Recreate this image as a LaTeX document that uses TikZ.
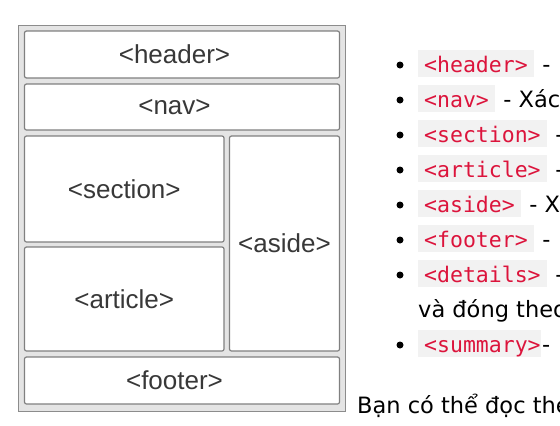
\documentclass[tikz,border=0pt]{standalone}
\usepackage{fontspec}
\setmainfont{DejaVu Sans}
\newfontfamily\khungfont{Liberation Sans}
\newfontfamily\mafont{DejaVu Sans Mono}
\usetikzlibrary{positioning}
\definecolor{vienngoai}{HTML}{8C8C8C}
\definecolor{vienxam}{HTML}{808080}
\definecolor{nenxam}{HTML}{E4E4E4}
\definecolor{chuxam}{HTML}{383838}
\definecolor{maudo}{HTML}{DC143C}
\definecolor{nenma}{HTML}{F2F2F2}

\tikzset{
  khung/.style={draw=vienxam, line width=1.2pt, fill=white, rounded corners=2pt,
    inner sep=0pt, text=chuxam, font=\khungfont\fontsize{26}{30}\selectfont},
  ma/.style={fill=nenma, text=maudo, inner xsep=6pt, inner ysep=0pt,
    text height=22pt, text depth=5.3pt, font=\mafont\fontsize{21.5}{26}\selectfont},
  chu/.style={inner xsep=1pt, inner ysep=0pt, text=black,
    font=\fontsize{22.5}{27}\selectfont},
  cham/.style={circle, fill=black, inner sep=0pt, minimum size=7pt}
}

\begin{document}
\begin{tikzpicture}[x=1pt,y=-1pt]
    \path[use as bounding box] (0,0) rectangle (560,426);
    \clip (0,0) rectangle (560,426);
    % Khung ngoai
    \draw[draw=vienngoai, fill=nenxam, line width=1pt] (18,25) rectangle (345,411);
    % Cac khoi bo cuc
    \node[khung, minimum width=315pt, minimum height=47pt] (header) at (182,54.5) {<header>\hspace*{15pt}};
    \node[khung, minimum width=315pt, minimum height=46pt] (nav) at (182,107) {<nav>\hspace*{15pt}};
    \node[khung, minimum width=199.5pt, minimum height=106pt] (section) at (124.25,189) {<section>};
    \node[khung, minimum width=199.5pt, minimum height=104pt] (article) at (124.25,299) {<article>};
    \node[khung, minimum width=110pt, minimum height=215pt] (aside) at (284.5,243.5) {<aside>};
    \node[khung, minimum width=315pt, minimum height=47pt] (footer) at (182,380.5) {<footer>\hspace*{15pt}};
    % Danh sach the
    \node[cham] (cham1) at (400,65) {};
    \node[ma, anchor=base west] (ma1) at (418,72) {<header>};
    \node[chu, anchor=base west] (mota1) at (ma1.base east) {\ -};
    \node[cham] (cham2) at (400,100) {};
    \node[ma, anchor=base west] (ma2) at (418,107) {<nav>};
    \node[chu, anchor=base west] (mota2) at (ma2.base east) {\ - Xác};
    \node[cham] (cham3) at (400,135) {};
    \node[ma, anchor=base west] (ma3) at (418,142) {<section>};
    \node[chu, anchor=base west] (mota3) at (ma3.base east) {\ -};
    \node[cham] (cham4) at (400,170) {};
    \node[ma, anchor=base west] (ma4) at (418,177) {<article>};
    \node[chu, anchor=base west] (mota4) at (ma4.base east) {\ -};
    \node[cham] (cham5) at (400,205) {};
    \node[ma, anchor=base west] (ma5) at (418,212) {<aside>};
    \node[chu, anchor=base west] (mota5) at (ma5.base east) {\ - X};
    \node[cham] (cham6) at (400,240) {};
    \node[ma, anchor=base west] (ma6) at (418,247) {<footer>};
    \node[chu, anchor=base west] (mota6) at (ma6.base east) {\ -};
    \node[cham] (cham7) at (400,275) {};
    \node[ma, anchor=base west] (ma7) at (418,282) {<details>};
    \node[chu, anchor=base west] (mota7) at (ma7.base east) {\ -};
    \node[chu, inner xsep=0pt, anchor=base west] (dong7) at (418,317) {và đóng theo};
    \node[cham] (cham8) at (400,345) {};
    \node[ma, inner xsep=0pt, anchor=base west] (ma8) at (418,352) {\hspace*{6pt}<summary>};
    \node[chu, anchor=base west] (mota8) at (ma8.base east) {-};
    % Doan van cuoi
    \node[chu, inner xsep=0pt, anchor=base west] (doan) at (357,413) {Bạn có thể đọc the};
\end{tikzpicture}
\end{document}
